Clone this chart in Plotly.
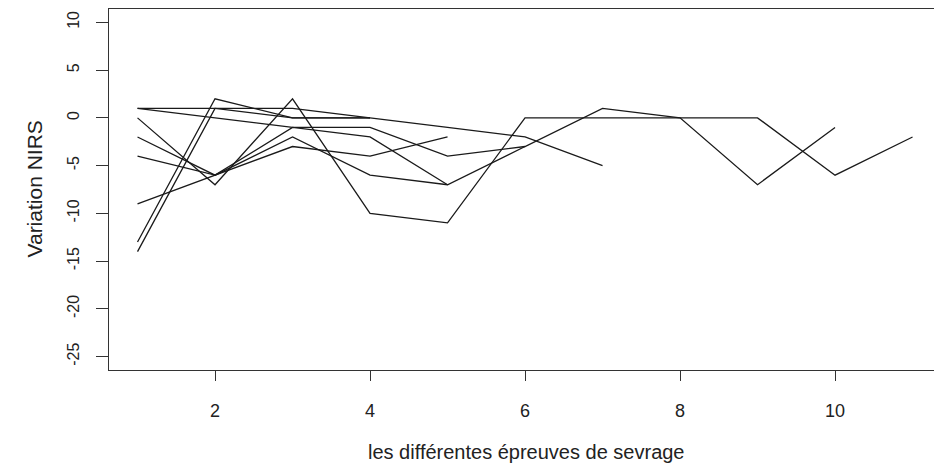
import plotly.graph_objects as go

# Each series: values at epreuve 1, 2, 3, ...
series_A = [0, -7, 2, -10, -11, 0, 0, 0, 0, -6, -2]
series_B = [-13, 2, 0, 0, -1, -2, -5]
series_C = [-14, 1, 1, 0]
series_D = [1, 1, 0, 0]
series_E = [1, 0, -1, -1, -4, -3, 1, 0, -7, -1]
series_F = [-2, -6, -2, -6, -7, -3]
series_G = [-4, -6, -1, -2, -7]
series_H = [-9, -6, -3, -4, -2]
all_series = [series_A, series_B, series_C, series_D, series_E, series_F, series_G, series_H]

x_ticks = [2, 4, 6, 8, 10]
y_ticks = [10, 5, 0, -5, -10, -15, -20, -25]

# page body has an 8px margin, so figure coordinates are shifted by 8px
OFF = 8
W, H = 942, 465
L, T = 109 - OFF, 9 - OFF
B = H - (370 - OFF)
R = OFF

fig = go.Figure()
for s in all_series:
    fig.add_trace(go.Scatter(x=list(range(1, len(s) + 1)), y=s, mode="lines",
                             line=dict(color="#1a1a1a", width=1.3),
                             showlegend=False, hoverinfo="skip"))

font = "Liberation Sans, Arial, sans-serif"
fig.update_layout(
    width=W, height=H,
    margin=dict(l=L, r=R, t=T, b=B, autoexpand=False),
    paper_bgcolor="white", plot_bgcolor="white",
    xaxis=dict(range=[0.632, 11.38], tickvals=x_ticks, ticktext=[str(v) for v in x_ticks],
               showgrid=False, zeroline=False, showline=True, mirror=True,
               linecolor="#333", linewidth=1.3, ticks="outside", ticklen=10,
               tickcolor="#333", tickwidth=1.2, ticklabelstandoff=14, automargin=False,
               tickfont=dict(family=font, size=18, color="#222")),
    yaxis=dict(range=[-26.4, 11.4], tickvals=y_ticks, ticktext=[str(v) for v in y_ticks],
               showgrid=False, zeroline=False, showline=True, mirror=False,
               linecolor="#333", linewidth=1.3, ticks="outside", ticklen=12,
               tickcolor="#333", tickwidth=1.2, tickangle=-90, ticklabelstandoff=10,
               automargin=False,
               tickfont=dict(family=font, size=16, color="#222")),
    annotations=[
        dict(text="les différentes épreuves de sevrage", xref="paper", yref="paper",
             x=(526 - 109) / (942 - 109), y=0, yshift=-(452 - 370), xanchor="center",
             yanchor="middle", showarrow=False, font=dict(family=font, size=20, color="#222")),
        dict(text="Variation NIRS", xref="paper", yref="paper",
             x=0, xshift=-(109 - 34), y=0.5, xanchor="center", yanchor="middle", textangle=-90,
             showarrow=False, font=dict(family=font, size=21, color="#222")),
    ],
)

fig.write_html("out.html")
